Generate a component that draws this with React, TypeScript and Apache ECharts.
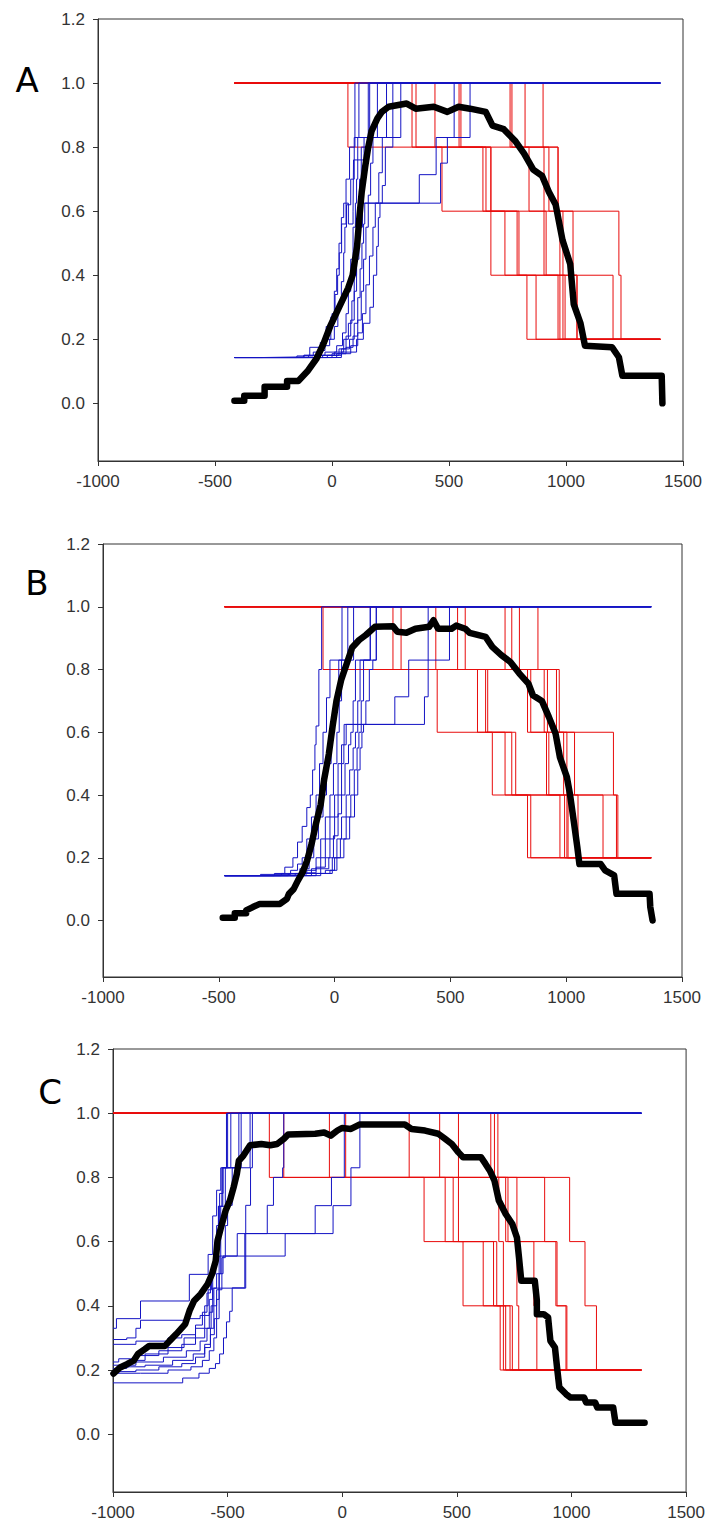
import React, { useEffect, useRef } from "react";
import * as echarts from "echarts";

const xTicks = [-1000, -500, 0, 500, 1000, 1500];
const yTicks = [0, 0.2, 0.4, 0.6, 0.8, 1.0, 1.2];
const redLevels = [1.0, 0.8, 0.6, 0.4, 0.2];
const panelLabels = ["A", "B", "C"];

// ---------- Panel A ----------
const aSpan = [-417, 1403];
const aRedDrops = [
  [68, 470, 679, 833],
  [342, 645, 739, 872],
  [359, 658, 791, 966],
  [440, 679, 799, 974],
  [543, 679, 906, 987],
  [551, 842, 915, 996],
  [761, 906, 974, 1047],
  [769, 927, 987, 1047],
  [825, 966, 1030, 1201],
  [902, 966, 1226, 1235],
];
const aBlue = [
  [[-417,0.143],[-120,0.15],[-95,0.175],[-50,0.19],[-25,0.24],[0,0.28],[13,0.34],[24,0.4],[31,0.47],[41,0.56],[60,0.625],[70,0.56],[90,0.6],[92,0.76],[137,0.83],[155,1],[1403,1]],
  [[-417,0.143],[-150,0.148],[-80,0.16],[-40,0.18],[-10,0.2],[10,0.24],[25,0.3],[40,0.38],[50,0.47],[55,0.55],[62,0.62],[80,0.7],[95,0.83],[115,1],[1403,1]],
  [[-417,0.143],[-100,0.15],[-30,0.16],[20,0.18],[45,0.22],[60,0.28],[70,0.35],[80,0.45],[90,0.55],[100,0.625],[105,0.7],[110,0.83],[161,1],[1403,1]],
  [[-417,0.143],[-60,0.15],[10,0.16],[50,0.2],[70,0.25],[85,0.32],[95,0.4],[105,0.5],[112,0.6],[118,0.7],[125,0.8],[160,0.83],[194,1],[1403,1]],
  [[-417,0.143],[-40,0.15],[30,0.17],[60,0.21],[80,0.26],[95,0.35],[105,0.45],[115,0.55],[130,0.625],[373,0.714],[445,0.83],[522,1],[1403,1]],
  [[-417,0.143],[-20,0.15],[40,0.17],[75,0.2],[95,0.25],[110,0.33],[120,0.42],[128,0.5],[135,0.56],[140,0.625],[464,0.75],[493,0.83],[590,1],[1403,1]],
  [[-417,0.143],[0,0.155],[60,0.175],[90,0.21],[110,0.26],[125,0.35],[135,0.45],[145,0.55],[155,0.65],[165,0.75],[175,0.83],[294,1],[1403,1]],
  [[-417,0.143],[20,0.155],[80,0.18],[110,0.22],[130,0.28],[145,0.37],[160,0.46],[175,0.55],[185,0.625],[200,0.72],[215,0.83],[233,1],[1403,1]],
  [[-417,0.143],[40,0.16],[105,0.2],[134,0.25],[162,0.3],[177,0.4],[191,0.49],[198,0.58],[205,0.625],[215,0.68],[228,0.8],[260,1],[1403,1]],
  [[-417,0.143],[-300,0.145],[-120,0.15],[-60,0.165],[-30,0.2],[-5,0.27],[10,0.35],[20,0.42],[30,0.5],[40,0.58],[50,0.625],[60,0.7],[75,0.8],[98,1],[1403,1]],
];
const aBlack = [
  [-417,0.008],[-375,0.008],[-375,0.024],[-288,0.024],[-288,0.052],[-192,0.052],[-192,0.07],[-144,0.07],[-105,0.1],[-66,0.14],[-37,0.185],[-8,0.24],[30,0.3],[69,0.36],[88,0.4],[107,0.49],[117,0.58],[127,0.66],[142,0.74],[155,0.8],[169,0.85],[194,0.89],[213,0.91],[242,0.926],[319,0.936],[358,0.92],[435,0.926],[493,0.91],[541,0.926],[590,0.92],[657,0.91],[686,0.867],[734,0.856],[782,0.82],[821,0.78],[860,0.73],[898,0.71],[927,0.66],[956,0.62],[985,0.51],[1018,0.435],[1033,0.31],[1062,0.25],[1081,0.18],[1197,0.175],[1226,0.144],[1241,0.086],[1409,0.086],[1412,0.0],
];

// ---------- Panel B ----------
const bSpan = [-475, 1367];
const bRedDrops = [
  [-50, 443, 681, 833],
  [252, 617, 736, 847],
  [287, 652, 765, 973],
  [437, 661, 782, 993],
  [531, 833, 915, 1003],
  [564, 847, 925, 1008],
  [736, 905, 989, 1051],
  [765, 919, 1003, 1159],
  [798, 958, 1036, 1217],
  [878, 970, 1204, 1223],
];
const bBlue = [
  [[-475,0.143],[-260,0.15],[-215,0.17],[-180,0.2],[-160,0.25],[-140,0.3],[-120,0.36],[-105,0.4],[-95,0.48],[-85,0.56],[-80,0.62],[-68,0.8],[-56,1],[1367,1]],
  [[-475,0.143],[-320,0.147],[-190,0.16],[-160,0.18],[-140,0.2],[-120,0.26],[-100,0.33],[-80,0.4],[-65,0.5],[-50,0.6],[-35,0.71],[-20,0.83],[32,1],[1367,1]],
  [[-475,0.143],[-230,0.15],[-150,0.165],[-110,0.2],[-90,0.26],[-70,0.33],[-50,0.4],[-35,0.5],[-15,0.6],[0,0.7],[18,0.83],[57,1],[1367,1]],
  [[-475,0.143],[-200,0.148],[-120,0.16],[-80,0.2],[-60,0.26],[-40,0.33],[-20,0.4],[-5,0.5],[10,0.6],[20,0.7],[30,0.83],[82,1],[1367,1]],
  [[-475,0.143],[-170,0.15],[-100,0.165],[-60,0.2],[-40,0.26],[-20,0.33],[0,0.4],[15,0.5],[30,0.56],[41,0.625],[260,0.713],[320,0.83],[496,1],[1367,1]],
  [[-475,0.143],[-150,0.152],[-80,0.17],[-40,0.2],[-20,0.26],[0,0.33],[15,0.4],[30,0.5],[40,0.56],[50,0.625],[388,0.713],[404,1],[1367,1]],
  [[-475,0.143],[-130,0.15],[-60,0.165],[-25,0.2],[-5,0.27],[15,0.34],[30,0.4],[45,0.5],[60,0.56],[70,0.6],[80,0.7],[90,0.83],[154,1],[1367,1]],
  [[-475,0.143],[-100,0.15],[-40,0.16],[-10,0.2],[10,0.26],[30,0.33],[50,0.4],[65,0.48],[80,0.55],[90,0.6],[100,0.7],[110,0.83],[180,1],[1367,1]],
  [[-475,0.143],[-80,0.15],[-20,0.16],[0,0.2],[25,0.26],[50,0.33],[70,0.4],[85,0.48],[97,0.55],[105,0.6],[115,0.7],[125,0.83],[154,1],[1367,1]],
  [[-475,0.143],[-60,0.15],[-10,0.16],[10,0.2],[40,0.26],[65,0.33],[86,0.4],[100,0.48],[110,0.55],[118,0.6],[125,0.625],[135,0.7],[150,0.8],[165,0.83],[180,1],[1367,1]],
];
const bBlack = [
  [-483,0.009],[-431,0.009],[-431,0.023],[-382,0.023],[-382,0.032],[-353,0.043],[-323,0.053],[-236,0.053],[-206,0.069],[-197,0.085],[-177,0.1],[-158,0.128],[-138,0.154],[-119,0.19],[-99,0.245],[-80,0.31],[-60,0.37],[-45,0.45],[-25,0.53],[-9,0.617],[8,0.7],[28,0.766],[53,0.82],[76,0.87],[106,0.894],[135,0.91],[174,0.936],[252,0.938],[271,0.92],[310,0.917],[349,0.93],[408,0.936],[427,0.957],[447,0.93],[505,0.93],[525,0.94],[564,0.93],[583,0.917],[652,0.904],[681,0.872],[720,0.846],[759,0.824],[798,0.787],[837,0.755],[856,0.718],[895,0.7],[925,0.649],[954,0.596],[973,0.52],[1003,0.457],[1016,0.404],[1032,0.32],[1048,0.234],[1057,0.18],[1149,0.18],[1168,0.16],[1207,0.144],[1217,0.085],[1360,0.085],[1363,0.043],[1373,0.0],
];

// ---------- Panel C ----------
const cSpan = [-1000, 1305];
const cRedDrops = [
  [-318, 357, 527, 689],
  [-255, 449, 615, 703],
  [-56, 484, 660, 713],
  [15, 507, 674, 732],
  [292, 683, 703, 742],
  [425, 713, 762, 770],
  [507, 723, 836, 849],
  [648, 762, 932, 976],
  [664, 883, 937, 980],
  [679, 992, 1059, 1109],
];
const cBlue = [
  [[-1000,0.33],[-985,0.36],[-880,0.415],[-667,0.498],[-585,0.56],[-565,0.68],[-548,0.76],[-530,0.83],[-500,1],[1305,1]],
  [[-1000,0.295],[-940,0.3],[-900,0.33],[-880,0.355],[-680,0.36],[-620,0.37],[-600,0.4],[-585,0.45],[-570,0.52],[-555,0.6],[-540,0.71],[-521,0.83],[-486,1],[1305,1]],
  [[-1000,0.28],[-900,0.29],[-760,0.3],[-700,0.31],[-640,0.33],[-600,0.37],[-580,0.42],[-565,0.5],[-552,0.6],[-540,0.71],[-525,0.83],[-441,1],[1305,1]],
  [[-1000,0.225],[-975,0.235],[-900,0.245],[-800,0.26],[-700,0.28],[-640,0.3],[-600,0.33],[-580,0.38],[-565,0.455],[-548,0.5],[-530,0.71],[-510,0.83],[-451,1],[1305,1]],
  [[-1000,0.215],[-900,0.225],[-780,0.24],[-680,0.26],[-620,0.29],[-590,0.33],[-572,0.4],[-560,0.455],[-421,0.713],[-400,0.83],[-392,1],[1305,1]],
  [[-1000,0.205],[-940,0.21],[-860,0.215],[-740,0.23],[-650,0.25],[-600,0.28],[-575,0.33],[-560,0.4],[-548,0.45],[-537,0.555],[-249,0.625],[-40,0.712],[38,0.83],[77,1],[1305,1]],
  [[-1000,0.195],[-900,0.2],[-800,0.21],[-700,0.22],[-640,0.24],[-600,0.27],[-575,0.31],[-558,0.36],[-548,0.42],[-537,0.5],[-520,0.555],[-458,0.625],[-118,0.712],[-47,0.8],[9,1],[1305,1]],
  [[-1000,0.19],[-880,0.19],[-760,0.2],[-660,0.21],[-610,0.23],[-580,0.26],[-560,0.3],[-548,0.36],[-537,0.45],[-525,0.55],[-510,0.65],[-500,0.713],[-480,0.83],[-402,1],[1305,1]],
  [[-1000,0.16],[-696,0.175],[-625,0.19],[-580,0.205],[-553,0.22],[-535,0.25],[-518,0.3],[-505,0.35],[-491,0.383],[-480,0.456],[-425,0.625],[-327,0.713],[-300,0.8],[-260,0.83],[-255,1],[1305,1]],
  [[-1000,0.2],[-970,0.21],[-930,0.23],[-860,0.25],[-760,0.27],[-690,0.3],[-640,0.34],[-610,0.38],[-590,0.44],[-575,0.5],[-560,0.56],[-548,0.65],[-535,0.75],[-520,0.83],[-505,1],[1305,1]],
];
const cBlack = [
  [-998,0.189],[-969,0.208],[-939,0.218],[-910,0.229],[-891,0.25],[-861,0.265],[-842,0.275],[-773,0.275],[-754,0.29],[-724,0.312],[-685,0.343],[-666,0.385],[-646,0.416],[-617,0.437],[-587,0.468],[-568,0.499],[-552,0.54],[-544,0.603],[-529,0.644],[-509,0.696],[-490,0.728],[-474,0.769],[-460,0.81],[-451,0.852],[-431,0.868],[-402,0.9],[-353,0.904],[-314,0.9],[-284,0.904],[-255,0.92],[-236,0.934],[-118,0.936],[-79,0.94],[-50,0.93],[-21,0.946],[-1,0.954],[38,0.951],[77,0.965],[273,0.965],[302,0.951],[361,0.946],[419,0.936],[449,0.92],[478,0.904],[507,0.878],[527,0.863],[605,0.863],[625,0.842],[644,0.821],[664,0.79],[683,0.728],[713,0.686],[742,0.655],[762,0.613],[771,0.551],[781,0.478],[840,0.478],[849,0.416],[849,0.374],[879,0.374],[898,0.364],[908,0.291],[928,0.27],[937,0.208],[947,0.146],[976,0.125],[996,0.114],[1055,0.114],[1064,0.099],[1103,0.099],[1113,0.083],[1182,0.083],[1192,0.036],[1319,0.036],
];

const panels = [
  { span: aSpan, red: aRedDrops, blue: aBlue, black: aBlack },
  { span: bSpan, red: bRedDrops, blue: bBlue, black: bBlack },
  { span: cSpan, red: cRedDrops, blue: cBlue, black: cBlack },
];

// layout (pixels)
const GRIDS = [
  { left: 98, top: 19, width: 585, height: 442 },
  { left: 103, top: 544, width: 579, height: 433 },
  { left: 113, top: 1049, width: 578, height: 443 },
];
const LETTER_POS = [
  [27, 80],
  [37, 583],
  [50, 1092],
];

const AXIS_FONT = '"Liberation Sans Narrow", "Liberation Sans", Arial, sans-serif';
const RED = "#e80c0c";
const BLUE = "#1414c4";

function redCurve(drops: number[], span: number[]) {
  const pts: number[][] = [[span[0], redLevels[0]]];
  drops.forEach((x, i) => pts.push([x, redLevels[i + 1]]));
  pts.push([span[1], redLevels[redLevels.length - 1]]);
  return pts;
}

function buildOption() {
  const grid = GRIDS.map((g) => ({
    ...g,
    show: true,
    borderColor: "#333",
    borderWidth: 1,
    backgroundColor: "transparent",
    containLabel: false,
  }));
  const xAxis = GRIDS.map((_, i) => ({
    gridIndex: i,
    type: "value",
    min: xTicks[0],
    max: xTicks[xTicks.length - 1],
    interval: 500,
    axisLine: { show: true, onZero: false, lineStyle: { color: "#333", width: 1 } },
    axisTick: { show: true, inside: false, length: 5, lineStyle: { color: "#333" } },
    axisLabel: {
      margin: 12,
      fontSize: 17,
      color: "#333",
      fontFamily: AXIS_FONT,
      showMinLabel: true,
      showMaxLabel: true,
      formatter: (v: number) => String(v),
    },
    splitLine: { show: false },
  }));
  const yAxis = GRIDS.map((_, i) => ({
    gridIndex: i,
    type: "value",
    min: -0.18,
    max: 1.2,
    axisLine: { show: true, onZero: false, lineStyle: { color: "#333", width: 1 } },
    axisTick: {
      show: true,
      inside: false,
      length: 5,
      customValues: yTicks,
      lineStyle: { color: "#333" },
    },
    axisLabel: {
      margin: 13,
      fontSize: 17,
      color: "#333",
      fontFamily: AXIS_FONT,
      customValues: yTicks,
      formatter: (v: number) => v.toFixed(1),
    },
    splitLine: { show: false },
  }));

  const series: any[] = [];
  panels.forEach((p, i) => {
    p.red.forEach((drops, k) => {
      series.push({
        name: `red-${i}-${k}`,
        type: "line",
        xAxisIndex: i,
        yAxisIndex: i,
        data: redCurve(drops, p.span),
        step: "end",
        showSymbol: false,
        silent: true,
        z: 2,
        lineStyle: { color: RED, width: 1 },
      });
    });
    p.blue.forEach((pts, k) => {
      series.push({
        name: `blue-${i}-${k}`,
        type: "line",
        xAxisIndex: i,
        yAxisIndex: i,
        data: pts,
        step: "end",
        showSymbol: false,
        silent: true,
        z: 3,
        lineStyle: { color: BLUE, width: 1 },
      });
    });
    series.push({
      name: `black-${i}`,
      type: "line",
      xAxisIndex: i,
      yAxisIndex: i,
      data: p.black,
      showSymbol: false,
      silent: true,
      z: 4,
      lineStyle: { color: "#000", width: 6.5, cap: "round", join: "round" },
    });
  });

  const graphic = panelLabels.map((t, i) => ({
    type: "text",
    x: LETTER_POS[i][0],
    y: LETTER_POS[i][1],
    silent: true,
    style: {
      text: t,
      font: '34px "DejaVu Sans", sans-serif',
      fill: "#000",
      align: "center",
      verticalAlign: "middle",
      textAlign: "center",
      textVerticalAlign: "middle",
    },
  }));

  return {
    animation: false,
    backgroundColor: "#ffffff",
    grid,
    xAxis,
    yAxis,
    series,
    graphic,
  };
}

export default function App() {
  const ref = useRef<HTMLDivElement>(null);
  useEffect(() => {
    if (!ref.current) return;
    const chart = echarts.init(ref.current, null, { renderer: "svg" });
    chart.setOption(buildOption() as any);
    return () => chart.dispose();
  }, []);
  return (
    <div
      ref={ref}
      style={{
        position: "absolute",
        left: 0,
        top: 0,
        width: 708,
        height: 1525,
        background: "#fff",
      }}
    />
  );
}
